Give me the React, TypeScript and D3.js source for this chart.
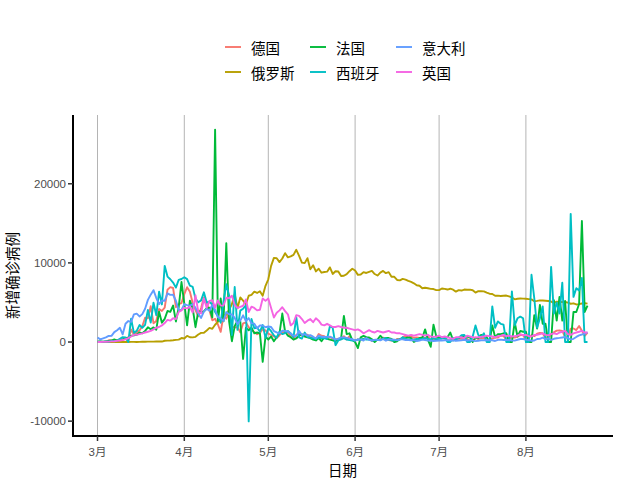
import React from "react";
import * as d3 from "d3";

// ---- data (daily new confirmed cases, 2020-03-01 .. 2020-08-23) ----
const startDate = "2020-03-01";
const countries = ["德国", "俄罗斯", "法国", "西班牙", "意大利", "英国"];
const colors = ["#F8766D", "#B79F00", "#00BA38", "#00BFC4", "#619CFF", "#F564E3"];
const monthLabels = ["3月", "4月", "5月", "6月", "7月", "8月"];
const yTicks = [-10000, 0, 10000, 20000];

const germany = [
  51,29,37,66,220,188,129,241,136,281,451,170,1597,910,1210,1477,1985,3070,2993,4528,2365,2660,4183,3930,4337,6615,6933,6824,4400,4790,4923,
  6064,6922,6365,4933,4031,3251,4289,5633,4885,3990,2737,2946,2218,1287,3394,2945,3699,1945,1842,1881,1226,2357,2481,1870,1514,1257,988,1154,1627,1470,
  1068,890,697,488,854,1284,1209,1251,667,357,933,1003,798,933,913,620,583,342,1012,797,745,460,638,431,289,432,353,741,333,741,286,
  181,342,285,394,507,406,136,214,301,318,555,348,247,192,180,378,345,580,770,601,687,537,587,503,630,477,687,256,298,466,
  446,503,422,239,239,397,442,397,442,378,398,159,159,583,360,534,498,248,235,449,561,569,815,781,305,340,633,557,684,870,870,
  240,509,879,741,1045,1147,1122,436,555,966,1226,1445,1449,1415,625,561,1693,1707,1510,2034,1427,780,1200,
];
const russia = [
  0,0,1,0,0,1,0,4,0,3,2,6,17,14,4,16,30,33,52,54,53,61,71,57,163,182,196,228,270,302,501,
  440,771,601,582,658,954,1154,1175,1459,1786,1667,2186,2558,2774,3388,3448,4070,4785,6060,4268,5642,5236,4774,5849,5966,6361,6198,6411,5841,7099,
  7933,9623,10633,10581,10102,10559,11231,10699,10817,11012,11656,10899,10028,9974,10598,9200,9709,8926,9263,8764,8849,8894,9434,8599,8946,8915,8338,8371,8572,8952,9268,
  9035,8485,8536,8831,8726,8855,8984,8595,8404,8779,8987,8706,8835,8248,8246,7843,7790,7972,7889,7728,7600,7425,7176,7113,6800,6852,6791,6719,6693,6556,
  6556,6760,6718,6632,6736,6611,6368,6562,6509,6635,6611,6615,6537,6248,6422,6428,6406,6234,6109,6065,5842,5862,5811,5848,5871,5765,5635,5395,5475,5509,5482,
  5462,5427,5394,5159,5204,5267,5241,5212,5189,5118,4945,5102,5057,5065,5061,4969,4839,4892,4748,4785,4870,4921,4852,
];
const france = [
  30,61,21,73,138,190,336,177,286,372,497,595,785,838,924,1210,1097,1404,1861,1617,1847,1559,3838,2446,2931,3922,3809,4611,2599,4376,7578,
  4861,2116,5233,4267,1873,3912,3777,3881,4286,4342,3114,26849,2673,5497,2633,12500,2600,100,2000,2700,2600,-2140,1800,1500,1800,1100,1200,1100,-2500,700,
  300,700,100,600,1100,3600,1300,800,600,300,450,800,1000,700,600,500,300,200,500,100,600,400,300,200,100,300,500,3300,1000,1100,250,
  0,-770,600,770,610,580,350,0,300,800,400,500,500,400,0,100,400,400,500,600,500,0,200,500,500,1600,300,-600,2200,700,
  600,600,500,600,1200,200,400,500,700,600,700,600,0,500,500,900,700,600,0,2100,600,1000,1000,1100,1100,0,0,2500,700,1400,1300,
  1300,0,0,3400,1700,4700,2300,2300,0,0,5300,2700,5700,2700,5200,0,0,3800,3800,4800,15300,3800,4600,
];
const spain = [
  39,36,45,57,37,141,100,173,400,622,582,0,2955,1159,1407,2144,1806,2162,4053,2447,4964,3394,6368,4749,9630,8271,7933,7516,6875,7846,7967,
  8195,7947,7134,6969,5478,5029,5267,6278,5002,5051,4754,3804,3268,2442,5103,7304,5891,887,6948,1536,3968,4211,4635,-10034,2915,1729,1831,1308,2144,518,
  1781,1366,838,545,1318,996,1122,1410,1095,621,3100,594,439,1200,640,520,470,400,517,500,482,400,2000,1800,-400,200,350,500,300,250,200,
  200,300,300,400,300,300,200,250,250,300,400,500,300,200,200,300,300,600,400,300,300,300,400,350,400,500,400,300,500,350,
  400,450,600,0,0,500,350,550,850,900,0,0,700,2100,900,600,1100,0,0,4500,1800,2600,2300,2200,0,0,6400,2100,3000,3200,3000,
  0,0,8500,5500,1800,3000,4500,0,0,9500,3600,5000,3600,7500,0,0,16200,5700,6800,6500,8100,0,0,
];
const italy = [
  573,335,466,587,769,778,1247,1492,1797,977,2313,2651,2547,3497,3590,3233,3526,4207,5322,5986,6557,5560,4789,5249,5210,6153,5959,5974,5217,4050,4053,
  4782,4668,4585,4805,4316,3599,3039,3836,4204,3951,4694,4092,3153,2972,2667,3786,3493,3491,3047,2256,2729,3370,2646,3021,2357,2324,1739,2091,2086,1872,
  1965,1900,1389,1221,1075,1444,1401,1327,1083,802,744,1402,888,992,789,875,675,451,813,665,642,652,669,531,300,397,584,593,516,416,355,
  178,318,321,177,518,270,197,280,283,202,379,163,346,338,301,210,329,333,251,262,224,218,122,190,296,259,175,174,126,142,
  187,201,223,235,192,208,138,193,229,276,188,234,169,114,163,230,233,249,219,218,129,282,306,252,275,255,170,181,289,386,379,
  295,239,159,190,384,402,552,347,463,259,412,481,523,574,629,479,320,403,642,845,947,1071,1210,
];
const uk = [
  10,10,20,30,50,80,100,150,200,250,350,500,700,900,900,1000,1100,1200,1300,1400,1600,1800,1900,2100,2400,2800,2700,3000,2900,3800,4000,
  4324,4244,4450,3735,5903,3802,3634,5491,4344,5195,5288,4342,5252,4603,4617,5599,5526,5850,4676,4301,4451,4583,5386,3800,4463,4309,3996,4076,5500,5200,
  5500,4300,3100,3700,4000,4400,3900,3500,2100,2400,3400,3300,2900,2400,2700,2900,2500,3000,2700,2200,2100,2300,2100,1900,1900,2000,1900,1800,1800,1700,1600,
  1500,1600,1400,1100,1300,1500,1300,1200,1400,1300,1200,1300,1400,1200,1200,1100,1100,1000,900,800,900,800,900,1000,900,800,900,700,650,700,
  800,600,700,600,500,400,600,600,600,500,800,700,600,550,600,650,700,800,750,700,600,750,800,900,750,800,700,750,800,1000,850,
  900,750,700,900,900,1000,1100,900,850,1000,1100,1000,1200,1300,1400,1000,900,1100,1200,1300,1400,1200,1200,
];

const seriesValues = [germany, russia, france, spain, italy, uk];

// ---- layout ----
const W = 640, H = 480;
const panel = { left: 73, right: 612, top: 115, bottom: 436 };
const CJK = "'Noto Sans CJK SC', 'Noto Sans', sans-serif";
const NUM = "'Liberation Sans', Arial, 'Noto Sans CJK SC', sans-serif";

export default function App() {
  const parse = d3.timeParse("%Y-%m-%d");
  const start = parse(startDate) as Date;
  const n = germany.length;
  const dates = d3.range(n).map((i) => d3.timeDay.offset(start, i));

  const [d0, d1] = d3.extent(dates) as [Date, Date];
  const span = +d1 - +d0;
  const x = d3
    .scaleTime()
    .domain([new Date(+d0 - 0.05 * span), new Date(+d1 + 0.05 * span)])
    .range([panel.left, panel.right]);

  const all = seriesValues.flat();
  const [vmin, vmax] = d3.extent(all) as [number, number];
  const vs = vmax - vmin;
  const y = d3
    .scaleLinear()
    .domain([vmin - 0.05 * vs, vmax + 0.05 * vs])
    .range([panel.bottom, panel.top]);

  const monthTicks = monthLabels.map((_, i) => new Date(2020, 2 + i, 1));

  const line = d3
    .line<number>()
    .x((_, i) => x(dates[i]))
    .y((v) => y(v));

  const legendCols = [225, 310, 396];
  const legendRows = [47, 72];

  return (
    <svg
      width={W}
      height={H}
      style={{ position: "absolute", left: 0, top: 0, background: "#fff" }}
    >
      <rect x={0} y={0} width={W} height={H} fill="#fff" />
      {/* vertical grid */}
      {monthTicks.map((d, i) => (
        <line
          key={"g" + i}
          x1={x(d)}
          x2={x(d)}
          y1={panel.top}
          y2={panel.bottom}
          stroke="#B4B4B4"
          strokeWidth={1}
        />
      ))}
      {/* series */}
      <g>
        {seriesValues.map((vals, k) => (
          <path
            key={countries[k]}
            d={line(vals) || ""}
            fill="none"
            stroke={colors[k]}
            strokeWidth={1.9}
            strokeLinejoin="round"
          />
        ))}
      </g>
      {/* axes */}
      <line x1={panel.left} x2={panel.left} y1={panel.top} y2={panel.bottom + 1} stroke="#000" strokeWidth={2} />
      <line x1={panel.left - 1} x2={panel.right + 1} y1={panel.bottom} y2={panel.bottom} stroke="#000" strokeWidth={2} />
      {yTicks.map((t) => (
        <g key={"y" + t}>
          <line x1={panel.left - 5} x2={panel.left} y1={y(t)} y2={y(t)} stroke="#333" strokeWidth={1.5} />
          <text
            x={panel.left - 7}
            y={y(t)}
            textAnchor="end"
            dominantBaseline="central"
            fontFamily={NUM}
            fontSize={11.5}
            fill="#4D4D4D"
          >
            {t}
          </text>
        </g>
      ))}
      {monthTicks.map((d, i) => (
        <g key={"x" + i}>
          <line x1={x(d)} x2={x(d)} y1={panel.bottom} y2={panel.bottom + 5} stroke="#333" strokeWidth={1.5} />
          <text
            x={x(d)}
            y={panel.bottom + 16}
            textAnchor="middle"
            dominantBaseline="central"
            fontFamily={NUM}
            fontSize={11.5}
            fill="#4D4D4D"
          >
            {monthLabels[i]}
          </text>
        </g>
      ))}
      {/* axis titles */}
      <text
        x={(panel.left + panel.right) / 2}
        y={469}
        textAnchor="middle"
        dominantBaseline="central"
        fontFamily={CJK}
        fontSize={14.5}
        fill="#000"
      >
        日期
      </text>
      <text
        transform={`translate(11, ${(panel.top + panel.bottom) / 2}) rotate(-90)`}
        textAnchor="middle"
        dominantBaseline="central"
        fontFamily={CJK}
        fontSize={14.5}
        fill="#000"
      >
        新增确诊病例
      </text>
      {/* legend */}
      {countries.map((c, k) => {
        const col = Math.floor(k / 2);
        const row = k % 2;
        const lx = legendCols[col];
        const ly = legendRows[row];
        return (
          <g key={"l" + c}>
            <line x1={lx} x2={lx + 16} y1={ly} y2={ly} stroke={colors[k]} strokeWidth={1.9} />
            <text
              x={lx + 26}
              y={ly}
              dominantBaseline="central"
              fontFamily={CJK}
              fontSize={14.5}
              fill="#000"
            >
              {c}
            </text>
          </g>
        );
      })}
    </svg>
  );
}
